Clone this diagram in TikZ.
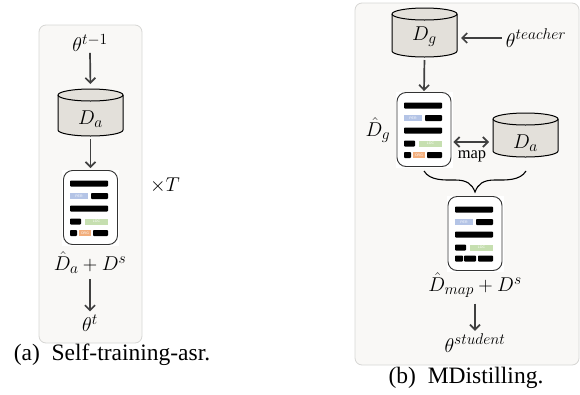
\documentclass[tikz,border=0pt]{standalone}
\usepackage{fix-cm}
\usepackage{fontspec}
\setmainfont{Liberation Serif}
\setsansfont{Liberation Sans}
\DeclareMathSizes{20}{20}{15.5}{11}
\usetikzlibrary{arrows.meta,calc}
\definecolor{panelfill}{HTML}{F9F8F6}
\definecolor{panelline}{HTML}{D6D6D4}
\definecolor{drumfill}{HTML}{E3E0DA}
\definecolor{arrowcol}{HTML}{404040}
\definecolor{perblue}{HTML}{B4C4E6}
\definecolor{locgreen}{HTML}{C6DFB0}
\definecolor{orgorange}{HTML}{F2AE7C}
\tikzset{
  x=1pt,y=-1pt,
  panel/.style={draw=panelline,fill=panelfill,line width=0.8pt,rounded corners=7pt},
  drumbase/.style={minimum width=65pt,inner sep=0pt,outer sep=0pt},
  drumline/.style={draw=black,line width=1pt,fill=drumfill},
  docback/.style={fill=white,minimum width=57pt,minimum height=76pt,inner sep=0pt},
  doccard/.style={draw=black!80,line width=0.9pt,fill=white,rounded corners=9pt,
    minimum width=54pt,minimum height=74pt,inner sep=0pt},
  label/.style={inner sep=0pt,font=\fontsize{20}{22}\selectfont},
  capt/.style={inner sep=0pt,font=\fontsize{23.5}{26}\selectfont},
  tag/.style={inner sep=0pt,text=white,font=\sffamily\fontsize{3.5}{4}\selectfont},
  flow/.style={draw=arrowcol,line width=1.7pt,-{Straight Barb[length=5pt,width=10pt,line width=1.7pt]}},
  bothflow/.style={draw=arrowcol,line width=1.7pt,{Straight Barb[length=5pt,width=10pt,line width=1.7pt]}-{Straight Barb[length=5pt,width=10pt,line width=1.7pt]}},
  barblack/.style={fill=black,rounded corners=0.8pt},
  barper/.style={fill=perblue},
  barloc/.style={fill=locgreen},
  barorg/.style={fill=orgorange},
}
% drum: name, x, y, height, label x y, label
\newcommand{\drum}[7]{%
  \node[drumbase,minimum height=#4pt] (#1) at (#2,#3) {};
  \path[drumline] ($(#1.north west)+(0,6)$) -- ($(#1.south west)+(0,-6)$)
    arc[start angle=180,end angle=360,x radius=32.5pt,y radius=6pt]
    -- ($(#1.north east)+(0,6)$)
    arc[start angle=0,end angle=180,x radius=32.5pt,y radius=6pt] -- cycle;
  \draw[line width=1pt] ($(#1.north west)+(0,6)$)
    arc[start angle=180,end angle=360,x radius=32.5pt,y radius=6pt];
  \node[label] (#1text) at (#5,#6) {#7};
}
% common rows of a document card, #1 #2 = card centre
\newcommand{\docbars}[2]{%
  \fill[barblack] (#1-20.5,#2-27) rectangle ++(38,6);
  \fill[barper] (#1-20.5,#2-14.5) rectangle ++(18,6);
  \node[tag] at (#1-11.5,#2-11.5) {PER};
  \fill[barblack] (#1+0.5,#2-14.5) rectangle ++(17,6);
  \fill[barblack] (#1-20.5,#2-2) rectangle ++(38,6);
  \fill[barblack] (#1-20.5,#2+11) rectangle ++(11,6);
  \fill[barloc] (#1-5.5,#2+11) rectangle ++(23,6);
  \node[tag] at (#1+6,#2+14) {LOC};
}
\newcommand{\orgrow}[2]{%
  \fill[barblack] (#1-20.5,#2+22.5) rectangle ++(7,6);
  \fill[barorg] (#1-11.5,#2+22.5) rectangle ++(12,6);
  \node[tag] at (#1-5.5,#2+25.5) {ORG};
  \fill[barblack] (#1+2.5,#2+22.5) rectangle ++(15,6);
}
\begin{document}
\begin{tikzpicture}
\useasboundingbox (0,0) rectangle (580,394);
% left panel
\node[panel,minimum width=103pt,minimum height=318pt,inner sep=0pt] (leftpanel) at (90.5,184) {};
\node[label] (thA) at (90,43) {$\theta^{t-1}$};
\drum{da}{90.5}{112.5}{47}{90.5}{119}{$D_a$}
\node[docback] (docAback) at (90.5,207.5) {};
\node[doccard] (docA) at (90.5,207.5) {};
\docbars{90.5}{207.5}
\orgrow{90.5}{207.5}
\node[label] (hatA) at (90,263) {$\hat{D}_a+D^s$};
\node[label] (thB) at (90,323) {$\theta^{t}$};
\node[label] (times) at (165,185) {$\times T$};
\node[capt] (capA) at (112,355) {(a)\enspace Self-training-asr.};
\draw[flow,shorten <=1pt,shorten >=5pt] (thA.south) -- (da.north);
\draw[flow,shorten <=3pt,shorten >=2pt] (da.south) -- (docA.north);
\draw[flow,shorten <=5pt,shorten >=3pt] (hatA.south) -- (thB.north);
% right panel
\node[panel,minimum width=224pt,minimum height=362pt,inner sep=0pt] (rightpanel) at (467,184) {};
\drum{dg}{424.5}{32.5}{49}{424.5}{37}{$D_g$}
\node[label] (thT) at (536,38) {$\theta^{teacher}$};
\node[docback] (docGback) at (424,129.5) {};
\node[doccard] (docG) at (424,129.5) {};
\docbars{424.5}{129.5}
\orgrow{424.5}{129.5}
\node[label] (hatG) at (378,130) {$\hat{D}_g$};
\drum{da2}{525.5}{135}{44}{525.5}{143}{$D_a$}
\node[inner sep=0pt,font=\fontsize{16.5}{18}\selectfont] (mapl) at (472,156) {map};
\coordinate (mapL) at (docG.east |- 0,142);
\coordinate (mapR) at (da2.west |- 0,142);
\draw[bothflow,shorten <=2pt,shorten >=4pt] (mapL) -- (mapR);
\coordinate (braceL) at (424,171);
\coordinate (braceR) at (526,171);
\coordinate (braceT) at (475,192);
\draw[line width=1.1pt,black] (braceL) .. controls (430,181) and (445,180) .. (455,180) .. controls (467,180) and (472,184) .. (braceT) .. controls (478,184) and (483,180) .. (495,180) .. controls (505,180) and (520,181) .. (braceR);
\node[docback] (docMback) at (475,233.5) {};
\node[doccard] (docM) at (475,233.5) {};
\docbars{475.5}{233.5}
\fill[barblack] (455,255.5) rectangle ++(8,6);
\fill[barblack] (464,255.5) rectangle ++(12,6);
\fill[barblack] (478,255.5) rectangle ++(15,6);
\node[label] (hatM) at (475,285) {$\hat{D}_{map}+D^s$};
\node[label] (thS) at (475,343) {$\theta^{student}$};
\node[capt] (capB) at (466,378) {(b)\enspace MDistilling.};
\draw[flow,shorten <=4pt,shorten >=4pt] (thT.west) -- (dg.east |- thT.west);
\draw[flow,shorten <=3pt,shorten >=1pt] (dg.south) -- (docG.north);
\draw[flow,shorten <=6pt,shorten >=3pt] (hatM.south) -- (thS.north);
\end{tikzpicture}
\end{document}
